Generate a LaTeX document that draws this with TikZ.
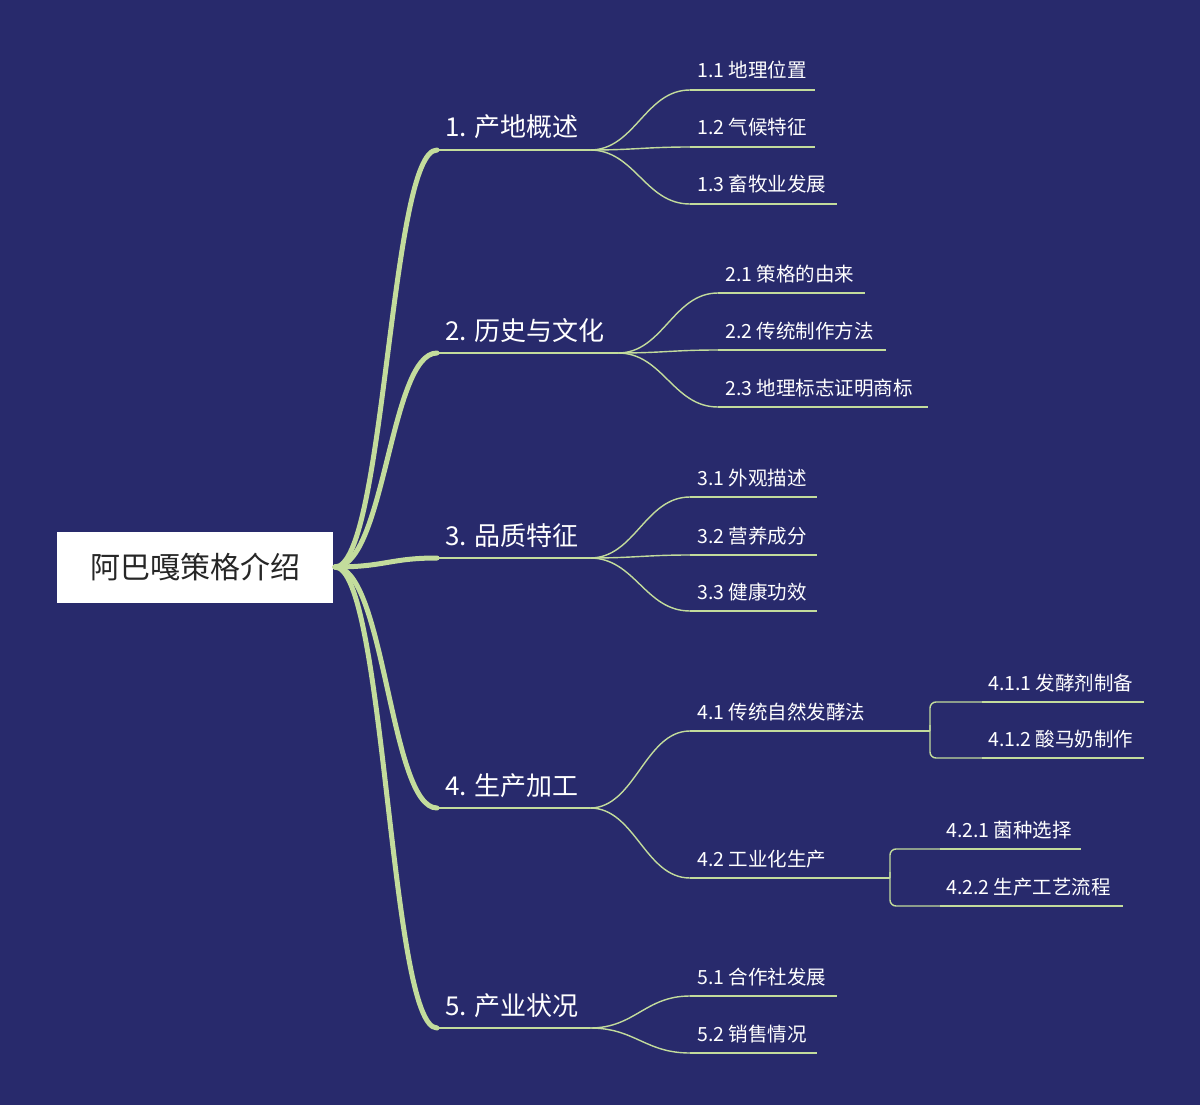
\documentclass[tikz,border=0pt]{standalone}
\usepackage{fontspec}
\setmainfont{Noto Sans CJK SC}
\usetikzlibrary{calc}
\definecolor{bgnavy}{HTML}{282A6C}
\definecolor{leafgreen}{HTML}{C3DC9C}
\begin{document}
\begin{tikzpicture}[x=1pt, y=-1pt,
    topic/.style={anchor=base west, inner sep=0pt, text=white, font=\fontsize{26}{30}\selectfont},
    sub/.style={anchor=base west, inner sep=0pt, text=white, font=\fontsize{19.5}{22}\selectfont},
    thickbranch/.style={draw=leafgreen, line width=5pt, line cap=round},
    thinbranch/.style={draw=leafgreen, line width=1.4pt},
    underline/.style={draw=leafgreen, line width=1.4pt}]
  % background
  \fill[bgnavy] (0,0) rectangle (1200,1105);
  \useasboundingbox (0,0) rectangle (1200,1105);

  % root
  \node[fill=white, minimum width=276pt, minimum height=71pt, inner sep=0pt,
        font=\fontsize{30}{34}\selectfont, text=black!85] (root) at (195,567) {阿巴嘎策格介绍};
  \coordinate (r) at (335,567);

  % level 1: name / y / underline end / label
  \foreach \n/\y/\e/\t in {a/150/590/{1. 产地概述}, b/353/618/{2. 历史与文化},
                           c/558/590/{3. 品质特征}, d/808/590/{4. 生产加工}, e/1028/590/{5. 产业状况}}{
    \coordinate (\n s) at (437,\y);
    \coordinate (\n e) at (\e,\y);
    \node[topic] (\n) at (445,\y-13) {\t};
    \draw[thickbranch] (r) .. controls (385,567) and (390,\y) .. (\n s);
    \draw[underline] (\n s) -- (\n e);
  }

  % level 2: parent / name / start x / y / end x / label
  \foreach \p/\n/\x/\y/\e/\t in {a/a1/690/90/815/{1.1 地理位置}, a/a2/690/147/815/{1.2 气候特征},
      a/a3/690/204/837/{1.3 畜牧业发展},
      b/b1/718/293/865/{2.1 策格的由来}, b/b2/718/350/886/{2.2 传统制作方法},
      b/b3/718/407/928/{2.3 地理标志证明商标},
      c/c1/690/497/817/{3.1 外观描述}, c/c2/690/555/817/{3.2 营养成分}, c/c3/690/611/817/{3.3 健康功效},
      d/d1/690/731/930/{4.1 传统自然发酵法}, d/d2/690/878/890/{4.2 工业化生产},
      e/e1/690/996/837/{5.1 合作社发展}, e/e2/690/1053/817/{5.2 销售情况}}{
    \coordinate (\n s) at (\x,\y);
    \coordinate (\n e) at (\e,\y);
    \node[sub] (\n) at (\x+7,\y-12) {\t};
    \draw[thinbranch] (\p e) .. controls ($(\p e)+(45,0)$) and ($(\n s)+(-45,0)$) .. (\n s);
    \draw[underline] (\n s) -- (\n e);
  }

  % level 3: parent / name / bracket x / start x / y / end x / label
  \foreach \p/\n/\b/\x/\y/\e/\t in {d1/d11/930/982/702/1144/{4.1.1 发酵剂制备},
      d1/d12/930/982/758/1144/{4.1.2 酸马奶制作},
      d2/d21/890/940/849/1081/{4.2.1 菌种选择}, d2/d22/890/940/906/1123/{4.2.2 生产工艺流程}}{
    \coordinate (\n s) at (\x,\y);
    \coordinate (\n e) at (\e,\y);
    \coordinate (\n b) at (\b,\y);
    \node[sub] (\n) at (\x+6,\y-12) {\t};
    \draw[thinbranch, rounded corners=6pt] (\p e) -| (\n b) -- (\n s);
    \draw[underline] (\n s) -- (\n e);
  }
\end{tikzpicture}
\end{document}
